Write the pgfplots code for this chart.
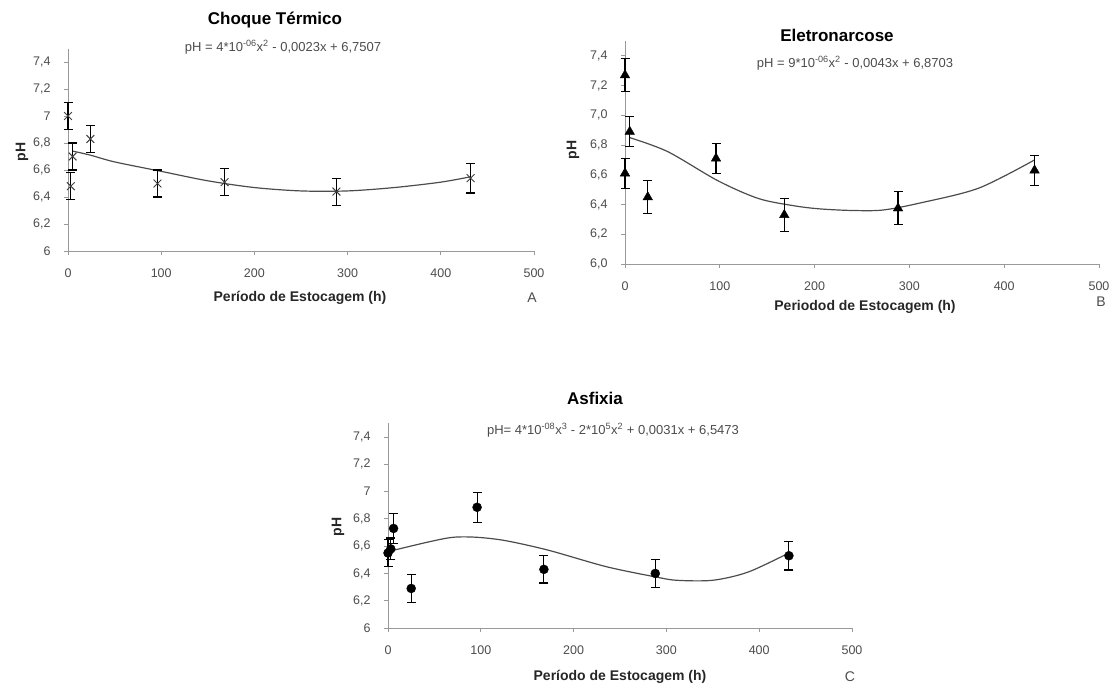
\documentclass[border=0pt]{standalone}
\usepackage{pgfplots}
\pgfplotsset{compat=1.18}
\usepackage{fontspec}
\setmainfont{Liberation Sans}

% pH x storage time, three stunning methods
\pgfplotstableread{
x y e
0 7.00 0.10
3 6.48 0.10
5 6.70 0.10
24 6.83 0.10
96 6.50 0.10
168 6.51 0.10
288 6.44 0.10
432 6.54 0.11
}\choque
\pgfplotstableread{
x y e
0 7.27 0.11
0 6.61 0.10
5 6.89 0.10
24 6.45 0.11
96 6.71 0.10
168 6.33 0.11
288 6.375 0.11
432 6.63 0.10
}\eletro
\pgfplotstableread{
x y e
0 6.55 0.10
3 6.58 0.08
6 6.73 0.11
25 6.29 0.105
96 6.885 0.11
168 6.43 0.10
288 6.40 0.10
432 6.53 0.105
}\asfixia

\pgfplotsset{
  phaxis/.style={
    scale only axis, anchor=south west,
    xmin=0, xmax=500, ymin=6, ymax=7.5,
    xtick={0,100,200,300,400,500},
    ytick={6,6.2,6.4,6.6,6.8,7,7.2,7.4},
    axis x line*=bottom, axis y line*=left,
    axis line style={black!40, line width=0.8pt},
    tick style={black!40, line width=0.8pt},
    tick align=outside, major tick length=4pt,
    tick label style={font=\fontsize{12.5}{12.5}\selectfont, text=black!70},
    yticklabel style={xshift=-10pt},
    xticklabel style={yshift=-10pt},
    /pgf/number format/assume math mode=true,
    clip=false,
  },
  ebar/.style={error bars/.cd, y dir=both, y explicit,
    error bar style={black, line width=1.1pt},
    error mark options={rotate=90, mark size=4.5pt, line width=1.1pt, black}},
  trend/.style={no markers, smooth, black!70, line width=1.2pt},
}
\tikzset{
  ttl/.style={font=\fontsize{17}{17}\selectfont\bfseries},
  eqn/.style={font=\fontsize{13}{13}\selectfont, text=black!70},
  lab/.style={font=\fontsize{14}{14}\selectfont\bfseries, text=black!85},
  let/.style={font=\fontsize{14}{14}\selectfont, text=black!70},
}

\begin{document}
\begin{tikzpicture}
\useasboundingbox (0,0) rectangle (1113pt,-685pt);

% A
\begin{axis}[phaxis, at={(68pt,-251pt)}, width=466pt, height=202.5pt,
  yticklabels={6,{6,2},{6,4},{6,6},{6,8},7,{7,2},{7,4}}]
\addplot[trend] coordinates {(5,6.74) (24,6.71) (50,6.66) (100,6.59) (150,6.52) (200,6.47) (250,6.445) (300,6.445) (350,6.47) (400,6.51) (432,6.55)};
\addplot[only marks, mark=x, mark size=5.5pt, mark options={black!75, line width=1pt}, ebar]
  table[x=x, y=y, y error=e] {\choque};
\end{axis}
\node[ttl] at (275pt,-20pt) {Choque Térmico};
\node[eqn] at (283pt,-47pt) {pH = 4*10\textsuperscript{-06}x\textsuperscript{2} - 0,0023x + 6,7507};
\node[lab, rotate=90] at (22pt,-152pt) {pH};
\node[lab] at (300pt,-298pt) {Período de Estocagem (h)};
\node[let] at (532pt,-298pt) {A};

% B
\begin{axis}[phaxis, at={(625pt,-264pt)}, width=474pt, height=223pt,
  yticklabels={{6,0},{6,2},{6,4},{6,6},{6,8},{7,0},{7,2},{7,4}}]
\addplot[trend] coordinates {(5,6.85) (45,6.756) (98,6.56) (141,6.44) (180,6.39) (207,6.37) (240,6.36) (272,6.363) (311,6.41) (373,6.51) (432,6.70)};
\addplot[only marks, mark=triangle*, mark size=5.5pt, mark options={black}, ebar]
  table[x=x, y=y, y error=e] {\eletro};
\end{axis}
\node[ttl] at (837pt,-35pt) {Eletronarcose};
\node[eqn] at (855pt,-63pt) {pH = 9*10\textsuperscript{-06}x\textsuperscript{2} - 0,0043x + 6,8703};
\node[lab, rotate=90] at (573pt,-150pt) {pH};
\node[lab] at (865pt,-307pt) {Periodod de Estocagem (h)};
\node[let] at (1101pt,-302pt) {B};

% C
\begin{axis}[phaxis, at={(388pt,-628pt)}, width=464pt, height=204.6pt,
  yticklabels={6,{6,2},{6,4},{6,6},{6,8},7,{7,2},{7,4}}]
\addplot[trend] coordinates {(0,6.56) (43,6.63) (70,6.665) (96,6.665) (127,6.64) (173,6.57) (235,6.45) (288,6.375) (311,6.35) (350,6.35) (388,6.41) (432,6.55)};
\addplot[only marks, mark=*, mark size=4.5pt, mark options={black}, ebar]
  table[x=x, y=y, y error=e] {\asfixia};
\end{axis}
\node[ttl] at (595pt,-398pt) {Asfixia};
\node[eqn] at (613pt,-430pt) {pH= 4*10\textsuperscript{-08}x\textsuperscript{3} - 2*10\textsuperscript{5}x\textsuperscript{2} + 0,0031x + 6,5473};
\node[lab, rotate=90] at (338pt,-527pt) {pH};
\node[lab] at (620pt,-677pt) {Período de Estocagem (h)};
\node[let] at (850pt,-677pt) {C};
\end{tikzpicture}
\end{document}
